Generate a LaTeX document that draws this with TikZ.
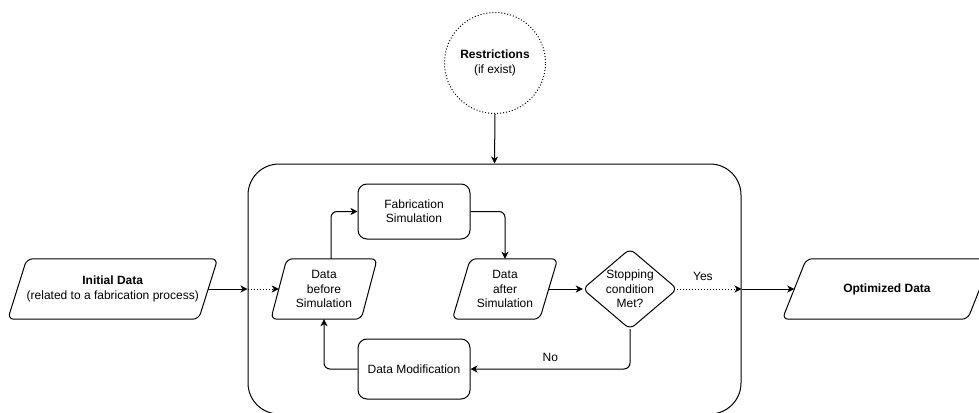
\documentclass[tikz,border=0pt]{standalone}
\usepackage{fontspec}
\setmainfont{Liberation Sans}
\usetikzlibrary{arrows.meta,calc}
\begin{document}
\begin{tikzpicture}[x=1pt,y=-1pt,
  every node/.style={font=\fontsize{12}{14.4}\selectfont, align=center, inner sep=0pt},
  ln/.style={line width=1pt, draw=black},
  arr/.style={ln, -{Stealth[length=7pt,width=7pt,inset=2pt]}, rounded corners=6pt},
  dot/.style={dash pattern=on 1pt off 2pt},
  boxr/.style={ln, rounded corners=9pt, minimum width=112pt},
  para/.style={minimum height=60pt},
]
\clip (0,0) rectangle (979,412);
% container
\node[ln, rounded corners=31pt, minimum width=493pt, minimum height=250pt] (box) at (494.5,289) {};
% restrictions
\node[ln, dot, circle, minimum size=101pt] (res) at (495,63) {\textbf{Restrictions}\\(if exist)};
% parallelogram nodes
\node[para, minimum width=190.5pt] (init) at (112.75,289) {\textbf{Initial Data}\\(related to a fabrication process)};
\node[para, minimum width=90pt] (dbs) at (324,289) {Data\\before\\Simulation};
\node[para, minimum width=87pt] (das) at (505,289) {Data\\after\\Simulation};
\node[para, minimum width=185pt] (opt) at (887,289) {\textbf{Optimized Data}};
\foreach \n/\s in {init/9.5,dbs/8,das/9,opt/12}
  \draw[ln, rounded corners=6pt] ([xshift=\s pt]\n.north west) -- ([xshift=\s pt]\n.north east)
     -- ([xshift=-\s pt]\n.south east) -- ([xshift=-\s pt]\n.south west) -- cycle;
% boxes
\node[boxr, minimum height=55pt] (fab) at (414,211.5) {Fabrication\\Simulation};
\node[boxr, minimum height=60pt] (dm) at (414,369) {Data Modification};
% diamond
\node[minimum width=94pt, minimum height=80pt] (dia) at (630,289) {Stopping\\condition\\Met?};
\draw[ln, rounded corners=6pt] (dia.north) -- (dia.east) -- (dia.south) -- (dia.west) -- cycle;
% coordinates on container border
\coordinate (cin) at (box.west |- init.east);
\coordinate (cout) at (box.east |- dia.east);
% connectors
\draw[arr] (init.east) -- (cin);
\draw[arr,dot] (cin) -- (dbs.west);
\draw[arr] ([xshift=7pt]dbs.north) |- (fab.west);
\draw[arr] (fab.east) -| (das.north);
\draw[arr] (das.east) -- (dia.west);
\draw[arr,dot] (dia.east) -- node[pos=0.4, above=8pt]{Yes} (cout);
\draw[arr] (cout) -- (opt.west);
\draw[arr] (dia.south) |- node[pos=0.75, above=7pt]{No} (dm.east);
\draw[arr] (dm.west) -| (dbs.south);
\draw[arr] (res.south) -- (box.north);
\end{tikzpicture}
\end{document}
